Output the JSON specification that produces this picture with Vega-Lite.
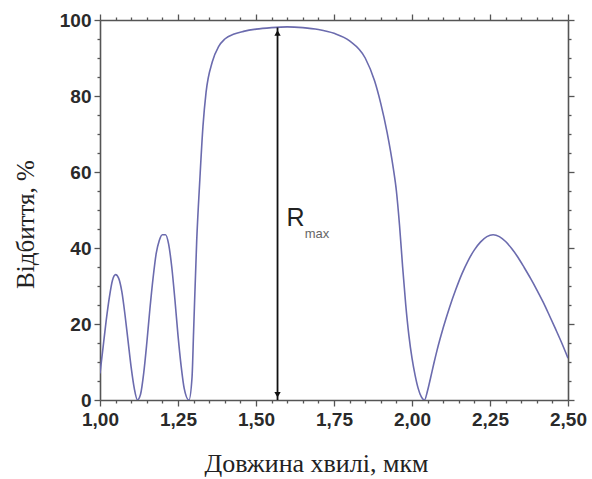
{
  "$schema": "https://vega.github.io/schema/vega-lite/v6.json",
  "width": 468,
  "height": 380,
  "autosize": {"type": "none"},
  "padding": {"left": 100, "top": 20, "right": 24, "bottom": 79},
  "background": "white",
  "config": {"view": {"stroke": null}},
  "datasets": {
    "curve": [
      {"x": 1.00, "y": 7}, {"x": 1.01, "y": 14}, {"x": 1.02, "y": 21}, {"x": 1.03, "y": 27},
      {"x": 1.04, "y": 31.5}, {"x": 1.05, "y": 33}, {"x": 1.06, "y": 32}, {"x": 1.07, "y": 28.5},
      {"x": 1.08, "y": 22.5}, {"x": 1.09, "y": 15.5}, {"x": 1.10, "y": 8.5}, {"x": 1.11, "y": 3},
      {"x": 1.12, "y": 0}, {"x": 1.13, "y": 1.5}, {"x": 1.14, "y": 7}, {"x": 1.15, "y": 15},
      {"x": 1.16, "y": 24}, {"x": 1.17, "y": 32}, {"x": 1.18, "y": 38.5}, {"x": 1.19, "y": 42},
      {"x": 1.20, "y": 43.5}, {"x": 1.21, "y": 43.5}, {"x": 1.22, "y": 41}, {"x": 1.23, "y": 35},
      {"x": 1.24, "y": 26.5}, {"x": 1.25, "y": 17}, {"x": 1.26, "y": 9}, {"x": 1.27, "y": 3},
      {"x": 1.285, "y": 0}, {"x": 1.295, "y": 6}, {"x": 1.30, "y": 18}, {"x": 1.31, "y": 42},
      {"x": 1.32, "y": 58}, {"x": 1.33, "y": 72}, {"x": 1.34, "y": 81}, {"x": 1.36, "y": 89},
      {"x": 1.38, "y": 93}, {"x": 1.40, "y": 95}, {"x": 1.43, "y": 96.3}, {"x": 1.46, "y": 97},
      {"x": 1.50, "y": 97.6}, {"x": 1.55, "y": 98}, {"x": 1.60, "y": 98.2}, {"x": 1.65, "y": 98},
      {"x": 1.70, "y": 97.5}, {"x": 1.75, "y": 96.5}, {"x": 1.80, "y": 94.5}, {"x": 1.85, "y": 90},
      {"x": 1.88, "y": 84}, {"x": 1.90, "y": 78}, {"x": 1.92, "y": 70.5}, {"x": 1.94, "y": 61},
      {"x": 1.95, "y": 55}, {"x": 1.96, "y": 46}, {"x": 1.97, "y": 35}, {"x": 1.98, "y": 25},
      {"x": 1.99, "y": 17}, {"x": 2.00, "y": 11}, {"x": 2.01, "y": 6.5}, {"x": 2.02, "y": 3},
      {"x": 2.03, "y": 0.8}, {"x": 2.04, "y": 0}, {"x": 2.05, "y": 2.5}, {"x": 2.06, "y": 6},
      {"x": 2.07, "y": 9.6}, {"x": 2.08, "y": 13}, {"x": 2.09, "y": 16.1}, {"x": 2.10, "y": 19},
      {"x": 2.12, "y": 24.3}, {"x": 2.14, "y": 29}, {"x": 2.16, "y": 33.2}, {"x": 2.18, "y": 36.7},
      {"x": 2.20, "y": 39.5}, {"x": 2.22, "y": 41.6}, {"x": 2.24, "y": 43}, {"x": 2.26, "y": 43.5},
      {"x": 2.28, "y": 43}, {"x": 2.30, "y": 41.7}, {"x": 2.32, "y": 39.8}, {"x": 2.34, "y": 37.5},
      {"x": 2.36, "y": 34.8}, {"x": 2.38, "y": 32}, {"x": 2.40, "y": 29}, {"x": 2.42, "y": 25.8},
      {"x": 2.44, "y": 22.3}, {"x": 2.46, "y": 18.7}, {"x": 2.48, "y": 15}, {"x": 2.50, "y": 11}
    ],
    "arrow": [{"x": 1.569, "y0": 0, "y1": 98}],
    "heads": [
      {"x": 1.569, "y": 96.6, "shape": "triangle-up"},
      {"x": 1.569, "y": 1.4, "shape": "triangle-down"}
    ],
    "labels": [
      {"x": 1.598, "y": 45.8, "t": "R", "kind": "main"},
      {"x": 1.656, "y": 42.6, "t": "max", "kind": "sub"}
    ]
  },
  "resolve": {"axis": {"x": "independent", "y": "independent"}},
  "layer": [
    {
      "data": {"name": "curve"},
      "mark": {"type": "line", "color": "#6b6bae", "strokeWidth": 1.6, "interpolate": "monotone", "clip": true},
      "encoding": {
        "x": {
          "field": "x", "type": "quantitative",
          "scale": {"domain": [1.0, 2.5], "nice": false, "zero": false},
          "axis": {
            "orient": "bottom",
            "values": [1.0,1.05,1.1,1.15,1.2,1.25,1.3,1.35,1.4,1.45,1.5,1.55,1.6,1.65,1.7,1.75,1.8,1.85,1.9,1.95,2.0,2.05,2.1,2.15,2.2,2.25,2.3,2.35,2.4,2.45,2.5],
            "labelExpr": "abs(datum.value*4 - round(datum.value*4)) < 0.001 ? replace(format(datum.value, '.2f'), '.', ',') : ''",
            "labelOverlap": false, "labelBound": false, "labelFlush": false,
            "labelFont": "Liberation Sans", "labelFontWeight": "bold", "labelFontSize": 19, "labelColor": "#2a2a2a",
            "labelPadding": 4,
            "tickSize": {"condition": {"test": "abs(datum.value*4 - round(datum.value*4)) < 0.001", "value": 6}, "value": 3},
            "tickColor": "#555", "tickWidth": 1.3,
            "domainColor": "#555", "domainWidth": 1.6, "grid": false,
            "title": "Довжина хвилі, мкм",
            "titleFont": "Liberation Serif", "titleFontSize": 26, "titleFontWeight": "normal", "titleColor": "#222",
            "titleX": 216, "titleY": 71, "titleBaseline": "alphabetic", "titleAnchor": "middle", "titleAlign": "center"
          }
        },
        "y": {
          "field": "y", "type": "quantitative",
          "scale": {"domain": [0, 100], "nice": false},
          "axis": {
            "orient": "left",
            "values": [0,5,10,15,20,25,30,35,40,45,50,55,60,65,70,75,80,85,90,95,100],
            "labelExpr": "datum.value % 20 == 0 ? datum.value + '' : ''",
            "labelOverlap": false, "labelBound": false, "labelFlush": false,
            "labelFont": "Liberation Sans", "labelFontWeight": "bold", "labelFontSize": 19, "labelColor": "#2a2a2a",
            "labelPadding": 3,
            "tickSize": {"condition": {"test": "datum.value % 20 == 0", "value": 6}, "value": 3},
            "tickColor": "#555", "tickWidth": 1.3,
            "domainColor": "#555", "domainWidth": 1.6, "grid": false,
            "title": "Відбиття, %",
            "titleFont": "Liberation Serif", "titleFontSize": 25, "titleFontWeight": "normal", "titleColor": "#222",
            "titleX": -67, "titleY": 204, "titleBaseline": "alphabetic", "titleAngle": -90, "titleAlign": "center"
          }
        }
      }
    },
    {
      "data": {"name": "curve"},
      "mark": {"type": "line", "opacity": 0},
      "encoding": {
        "x": {
          "field": "x", "type": "quantitative",
          "scale": {"domain": [1.0, 2.5], "nice": false, "zero": false},
          "axis": {
            "orient": "top",
            "values": [1.0,1.05,1.1,1.15,1.2,1.25,1.3,1.35,1.4,1.45,1.5,1.55,1.6,1.65,1.7,1.75,1.8,1.85,1.9,1.95,2.0,2.05,2.1,2.15,2.2,2.25,2.3,2.35,2.4,2.45,2.5],
            "labels": false,
            "tickSize": {"condition": {"test": "abs(datum.value*4 - round(datum.value*4)) < 0.001", "value": 6}, "value": 3},
            "tickColor": "#555", "tickWidth": 1.3,
            "domainColor": "#555", "domainWidth": 1.6, "grid": false, "title": null
          }
        },
        "y": {
          "field": "y", "type": "quantitative",
          "scale": {"domain": [0, 100], "nice": false},
          "axis": {
            "orient": "right",
            "values": [0,5,10,15,20,25,30,35,40,45,50,55,60,65,70,75,80,85,90,95,100],
            "labels": false,
            "tickSize": {"condition": {"test": "datum.value % 20 == 0", "value": 6}, "value": 3},
            "tickColor": "#555", "tickWidth": 1.3,
            "domainColor": "#555", "domainWidth": 1.6, "grid": false, "title": null
          }
        }
      }
    },
    {
      "data": {"name": "arrow"},
      "mark": {"type": "rule", "color": "#111", "strokeWidth": 1.8},
      "encoding": {
        "x": {"field": "x", "type": "quantitative", "axis": null},
        "y": {"field": "y0", "type": "quantitative", "axis": null},
        "y2": {"field": "y1"}
      }
    },
    {
      "data": {"name": "heads"},
      "mark": {"type": "point", "filled": true, "color": "#111", "opacity": 1, "size": 40},
      "encoding": {
        "x": {"field": "x", "type": "quantitative", "axis": null},
        "y": {"field": "y", "type": "quantitative", "axis": null},
        "shape": {"field": "shape", "type": "nominal", "scale": null, "legend": null}
      }
    },
    {
      "data": {"name": "labels"},
      "transform": [{"filter": "datum.kind == 'main'"}],
      "mark": {"type": "text", "align": "left", "baseline": "alphabetic", "font": "Liberation Sans", "fontSize": 25, "color": "#222"},
      "encoding": {
        "x": {"field": "x", "type": "quantitative", "axis": null},
        "y": {"field": "y", "type": "quantitative", "axis": null},
        "text": {"field": "t"}
      }
    },
    {
      "data": {"name": "labels"},
      "transform": [{"filter": "datum.kind == 'sub'"}],
      "mark": {"type": "text", "align": "left", "baseline": "alphabetic", "font": "Liberation Sans", "fontSize": 13, "color": "#666"},
      "encoding": {
        "x": {"field": "x", "type": "quantitative", "axis": null},
        "y": {"field": "y", "type": "quantitative", "axis": null},
        "text": {"field": "t"}
      }
    }
  ]
}
